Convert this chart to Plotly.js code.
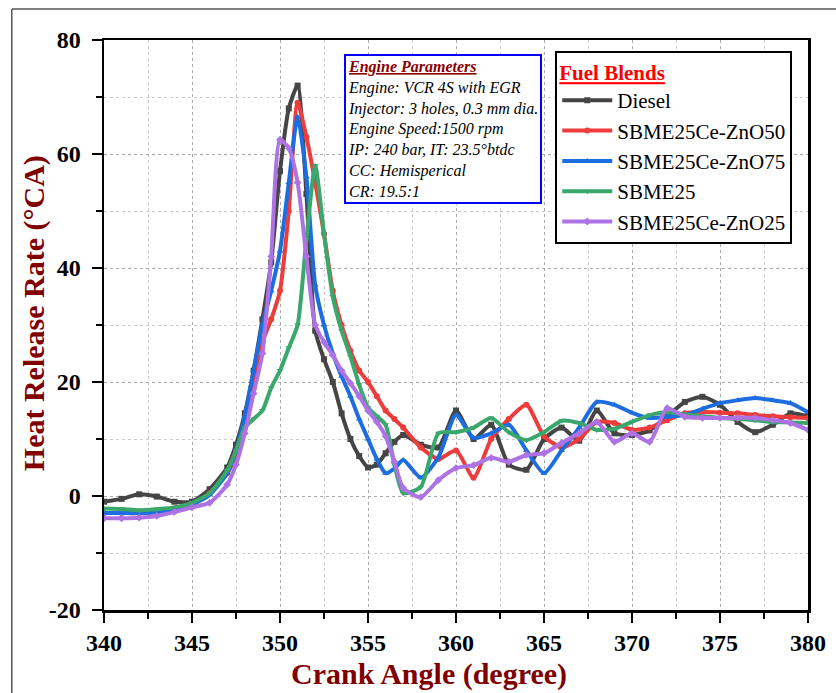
<!DOCTYPE html>
<html>
<head>
<meta charset="utf-8">
<script src="https://cdn.plot.ly/plotly-3.0.1.min.js"></script>
<style>html,body{margin:0;padding:0;background:#fff;}#chart{width:836px;height:693px;}</style>
</head>
<body>
<div id="chart"></div>
<script>
// Crank angle (degree)
const angle = [340,341,342,343,344,345,346,347,347.5,348,348.5,349,349.5,350,350.5,351,351.5,352,352.5,353,353.5,354,354.5,355,355.5,356,356.5,357,358,359,360,361,362,363,364,365,366,367,368,369,370,371,372,373,374,375,376,377,378,379,380];

const diesel = [-1.0,-0.5,0.3,-0.1,-1.0,-1.0,1.2,5,9,14.5,22,31,41,57,68,72,53,29,24,20,14.5,10,7,5,5.5,7.5,9.5,10.7,9,8.5,15,10,12.5,5.5,4.6,10,12,9.7,15,11,10.7,11.5,14,16.5,17.4,16,13,11.2,12.5,14.5,14];
const zno50 = [-3,-3,-3,-2.8,-2.2,-1.5,0.5,4,7,12,19,27,31,36,50,69,63,55,46,36,30,25.5,22,20,17.5,15,13.5,12,8.5,6.5,8,3.2,10,13.5,16,10.5,8.5,10,13,12.8,11.6,12,13.3,14.5,14.8,14.6,14.5,14.2,14,13.8,13.7];
const zno75 = [-3,-3,-3,-2.8,-2.3,-1.5,0.2,4,8,14,22,30,36,43,55,66.5,56,37,30,25,21,17.5,13.5,10,6.5,4,4.8,6.3,3.2,6.8,14.2,10.2,11,12.5,8,4,8,12,16.5,16,14.6,13.7,13.9,14.2,15.3,16.3,16.8,17.2,16.8,16.3,14.7];
const sbme25 = [-2.2,-2.3,-2.5,-2.3,-2,-1.2,0.5,4.5,8,12,13.5,15,19,22,26,30,45,58,46,35,29,24.5,19.5,15.5,14,12.5,5.5,0.5,1.6,11,11.2,12,13.7,11.2,9.8,11.2,13.2,12.8,11.6,11.8,13,14.2,14.7,14.3,14,13.7,13.5,13.3,13,12.9,12.8];
const zno25 = [-3.9,-3.9,-3.8,-3.5,-2.8,-2,-1.2,2,5.5,11,18,25,42,62.5,61,55,42,30,27,24.7,22,19.8,17.5,15,13,10.5,6,1.4,-0.2,2.8,4.9,5.4,6.7,6,7.2,7.5,9.3,11,13,9.5,11,9.5,15.4,13.9,13.7,13.7,13.7,13.7,13.3,12.8,11.6];

const seriesNames = ['Diesel','SBME25Ce-ZnO50','SBME25Ce-ZnO75','SBME25','SBME25Ce-ZnO25'];
const seriesData = [diesel, zno50, zno75, sbme25, zno25];
const seriesColors = ['#454545','#ee3b3b','#1c6ee0','#3aa76d','#ad72e3'];
const seriesSymbols = ['square','circle','triangle-up','triangle-down','diamond'];

const xTicks = [340,345,350,355,360,365,370,375,380];
const yTicks = [-20,0,20,40,60,80];

const engineLines = ['Engine: VCR 4S with EGR','Injector: 3 holes, 0.3 mm dia.','Engine Speed:1500 rpm','IP: 240 bar, IT: 23.5°btdc','CC: Hemisperical','CR: 19.5:1'];

const traces = seriesData.map((d,i)=>({
  x: angle, y: d, name: seriesNames[i], type:'scatter', mode:'lines+markers',
  line:{color:seriesColors[i], width:4, shape:'spline', smoothing:0.6},
  marker:{symbol:seriesSymbols[i], size:6, color:seriesColors[i]}
}));

const serif = 'Liberation Serif, Times New Roman, serif';
const layout = {
  width:836, height:693,
  margin:{l:104, r:28, t:40, b:83},
  paper_bgcolor:'#fff', plot_bgcolor:'#fff',
  showlegend:true,
  legend:{
    x:0.641, y:0.981, xanchor:'left', yanchor:'top',
    bgcolor:'#fff', bordercolor:'#000', borderwidth:2,
    font:{family:serif, size:21, color:'#000'},
    title:{text:'<span style="text-decoration:underline">Fuel Blends</span>', font:{family:serif, size:21, color:'#ff0000', weight:'bold'}},
    tracegroupgap:0, itemwidth:50
  },
  xaxis:{
    range:[340,380], tickvals:xTicks, ticktext:xTicks.map(String),
    ticks:'outside', ticklen:10, tickwidth:2, tickcolor:'#000',
    showline:true, linecolor:'#000', linewidth:2.5, mirror:true,
    showgrid:true, gridcolor:'#aaa', griddash:'dot', gridwidth:1,
    zeroline:false,
    tickfont:{family:serif, size:24, color:'#000', weight:'bold'},
    minor:{dtick:2.5, tick0:340, ticks:'outside', ticklen:6, tickwidth:2, tickcolor:'#000', showgrid:true, gridcolor:'#ccc', griddash:'dot'}
  },
  yaxis:{
    range:[-20,80], tickvals:yTicks, ticktext:yTicks.map(String),
    ticks:'outside', ticklen:10, tickwidth:2, tickcolor:'#000',
    showline:true, linecolor:'#000', linewidth:2.5, mirror:true,
    showgrid:true, gridcolor:'#aaa', griddash:'dot', gridwidth:1,
    zeroline:false, ticklabelstandoff:6,
    tickfont:{family:serif, size:24, color:'#000', weight:'bold'},
    minor:{dtick:10, tick0:0, ticks:'outside', ticklen:6, tickwidth:2, tickcolor:'#000', showgrid:true, gridcolor:'#ccc', griddash:'dot'}
  },
  annotations:[
    {xref:'paper', yref:'paper', x:0.462, y:-0.112, xanchor:'center', yanchor:'middle', showarrow:false,
     text:'<b>Crank Angle (degree)</b>', font:{family:serif, size:30, color:'#800000'}},
    {xref:'paper', yref:'paper', x:-0.1, y:0.52, xanchor:'center', yanchor:'middle', showarrow:false, textangle:-90,
     text:'<b>Heat Release Rate (°CA)</b>', font:{family:serif, size:30, color:'#800000'}},
    {xref:'paper', yref:'paper', x:0.341, y:0.975, xanchor:'left', yanchor:'top', showarrow:false, align:'left',
     bgcolor:'#fff', bordercolor:'#0000ff', borderwidth:2, borderpad:2,
     text:'<b><i><span style="text-decoration:underline;color:#8b0000">Engine Parameters</span></i></b><br>' + engineLines.map(s=>'<i>'+s+'</i>').join('<br>'),
     font:{family:serif, size:16, color:'#000'}}
  ],
  shapes:[
    {type:'line', xref:'paper', yref:'paper', x0:-0.131, x1:1.04, y0:1.0544, y1:1.0544, line:{color:'#555', width:1.5}},
    {type:'line', xref:'paper', yref:'paper', x0:-0.131, x1:-0.131, y0:1.0544, y1:-0.146, line:{color:'#555', width:1.5}}
  ]
};
Plotly.newPlot('chart', traces, layout, {displayModeBar:false, staticPlot:true});
</script>
</body>
</html>
